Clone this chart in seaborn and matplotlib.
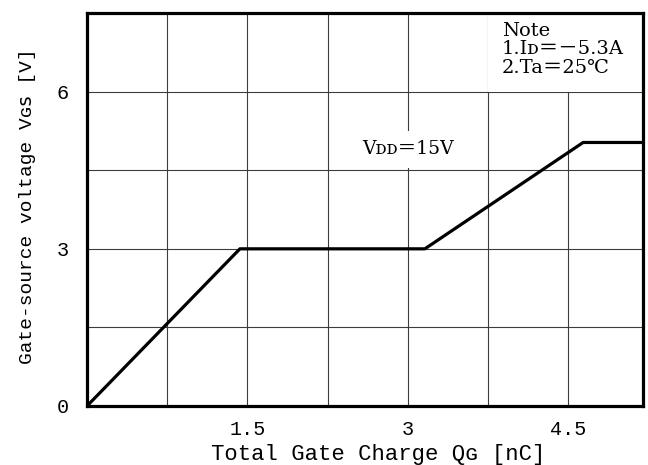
import matplotlib
matplotlib.use("Agg")
import matplotlib.pyplot as plt
from matplotlib.patches import Rectangle
from matplotlib.ticker import MultipleLocator, FixedLocator
import seaborn as sns

# Gate charge curve, VDD = 15 V
qg_nc = [0.0, 1.43, 3.16, 4.64, 5.2]
vgs_v = [0.0, 3.0, 3.0, 5.03, 5.03]

x_ticks = [1.5, 3, 4.5]
x_tick_labels = ["1.5", "3", "4.5"]
y_ticks = [0, 3, 6]
y_tick_labels = ["0", "3", "6"]

x_label = "Total Gate Charge Qɢ [nC]"
y_label = "Gate-source voltage Vɢꜱ [V]"
note_lines = ["Note", "1.Iᴅ＝－5.3A", "2.Ta＝25℃"]
vdd_label = "Vᴅᴅ＝15V"

sns.set_theme(style="white")
mono = ["Liberation Mono", "DejaVu Sans Mono", "DejaVu Sans"]
serif = ["DejaVu Serif", "Noto Sans CJK JP"]
plt.rcParams["font.family"] = mono

fig = plt.figure(figsize=(6.48, 4.65), dpi=100)
ax = fig.add_axes([0.1343, 0.1269, 0.858, 0.845])

sns.lineplot(x=qg_nc, y=vgs_v, ax=ax, color="black", linewidth=2.3,
             zorder=3, sort=False)

ax.set_xlim(0, 5.2)
ax.set_ylim(0, 7.5)

ax.xaxis.set_major_locator(FixedLocator(x_ticks))
ax.set_xticklabels(x_tick_labels)
ax.yaxis.set_major_locator(FixedLocator(y_ticks))
ax.set_yticklabels(y_tick_labels)
ax.xaxis.set_minor_locator(MultipleLocator(0.75))
ax.yaxis.set_minor_locator(MultipleLocator(1.5))
ax.set_axisbelow(True)
ax.grid(True, which="both", color="#3c3c3c", linewidth=0.8)

ax.tick_params(axis="both", which="both", length=0, labelsize=14.5,
               colors="black")
ax.tick_params(axis="x", pad=10)
ax.tick_params(axis="y", pad=13)

for spine in ax.spines.values():
    spine.set_color("black")
    spine.set_linewidth(2.3)
    spine.set_zorder(5)

ax.set_xlabel(x_label, fontsize=16, color="black")
ax.set_ylabel(y_label, fontsize=14, color="black")
ax.xaxis.set_label_coords(0.523, -0.098)
ax.yaxis.set_label_coords(-0.092, 0.509)

# blank cell behind the notes in the top-right corner
ax.add_patch(Rectangle((3.75, 6.0), 5.2 - 3.75, 7.5 - 6.0,
                       facecolor="white", edgecolor="none", zorder=1))

for i, line in enumerate(note_lines):
    ax.text(0.746, 0.955 - i * 0.047, line, transform=ax.transAxes,
            family=serif, fontsize=14, color="black",
            ha="left", va="center", zorder=4)

ax.text(3.0, 4.9, vdd_label, family=serif, fontsize=13.5, color="black",
        ha="center", va="center", zorder=4,
        bbox=dict(facecolor="white", edgecolor="none", pad=7))

fig.savefig("out.png", dpi=100)
